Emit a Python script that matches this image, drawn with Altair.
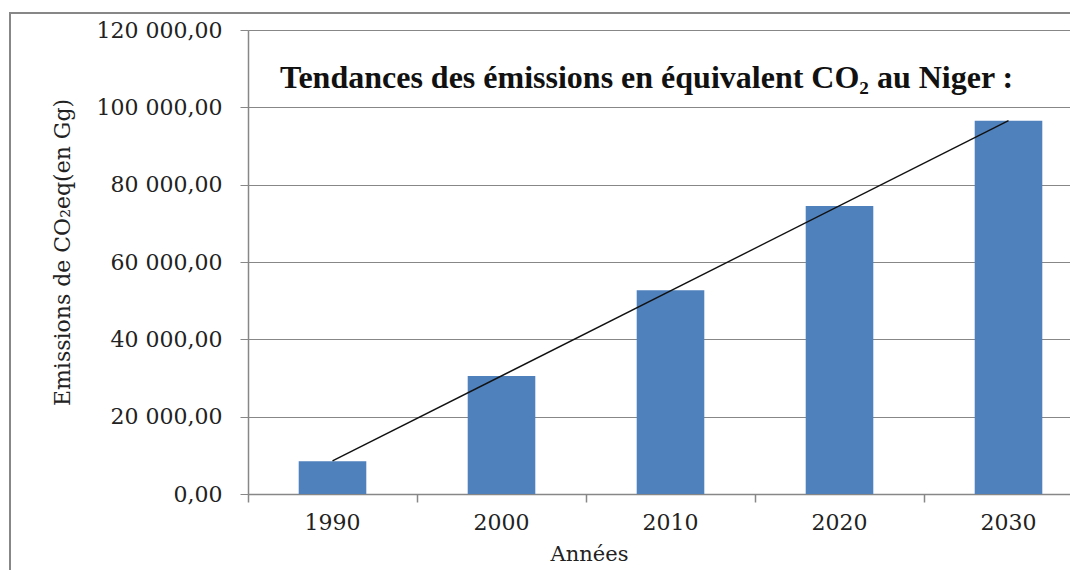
import altair as alt
import pandas as pd

years = [1990, 2000, 2010, 2020, 2030]
emissions = [8500, 30500, 52700, 74500, 96500]
y_ticks = [0, 20000, 40000, 60000, 80000, 100000, 120000]
title_text = "Tendances des émissions en équivalent CO₂ au Niger :"
y_title = "Emissions de CO₂eq(en Gg)"
x_title = "Années"

df = pd.DataFrame({"year": years, "value": emissions})
one = pd.DataFrame({"k": [0]})

GRAY = "#878787"
FONT = "DejaVu Serif"

xscale = alt.Scale(range=[0, 845], paddingInner=0.6, paddingOuter=0.3)
yscale = alt.Scale(domain=[0, 120000])

frame = alt.Chart(one).mark_rect(fillOpacity=0, stroke=GRAY, strokeWidth=2).encode(
    x=alt.value(-238), x2=alt.value(900), y=alt.value(-17), y2=alt.value(800)
)

bars = alt.Chart(df).mark_bar(color="#4F81BD").encode(
    x=alt.X("year:O", scale=xscale,
            axis=alt.Axis(orient="bottom", title=x_title, ticks=False, tickSize=0, labelPadding=18,
                          labelAngle=0, labelFont=FONT, labelFontSize=22, labelColor="#222",
                          domainColor=GRAY, domainWidth=1.5,
                          titleFont=FONT, titleFontSize=21, titleFontWeight="normal",
                          titleColor="#222", titleX=341, titleY=66,
                          titleBaseline="alphabetic", titleAlign="center")),
    y=alt.Y("value:Q", scale=yscale,
            axis=alt.Axis(values=y_ticks, format=",.2f", title=y_title,
                          grid=True, gridColor=GRAY, gridWidth=1,
                          tickSize=8, tickColor=GRAY, labelPadding=18,
                          labelFont=FONT, labelFontSize=22, labelColor="#222",
                          domainColor=GRAY, domainWidth=1.5,
                          titleFont=FONT, titleFontSize=22, titleFontWeight="normal",
                          titleColor="#222", titleX=-186, titleY=222,
                          titleAngle=270, titleBaseline="middle", titleAlign="center")),
)

trend = alt.Chart(df).transform_regression("year", "value").mark_line(
    color="#111", strokeWidth=1.4
).encode(
    x=alt.X("year:O", scale=xscale,
            axis=alt.Axis(orient="bottom", title=None, labels=False, domain=False, ticks=True,
                          tickSize=8, tickColor=GRAY, tickWidth=1.5, tickOffset=-84.5, grid=False)),
    y=alt.Y("value:Q", scale=yscale),
)

title = alt.Chart(one).mark_text(
    text=title_text, align="left", baseline="alphabetic",
    font="Liberation Serif", fontWeight="bold", fontSize=32, color="#111"
).encode(x=alt.value(32), y=alt.value(58))

chart = alt.layer(frame, bars, trend, title).resolve_axis(x="independent").properties(
    width=822, height=464,
    autosize=alt.AutoSizeParams(type="none"),
    padding={"left": 240, "top": 22, "right": 0, "bottom": 76},
    background="white",
).configure_view(stroke=None).configure(
    locale={"number": {"decimal": ",", "thousands": " ", "grouping": [3], "currency": ["", " €"]}}
)

chart.save("out.html", embed_options={"renderer": "svg", "actions": False})
